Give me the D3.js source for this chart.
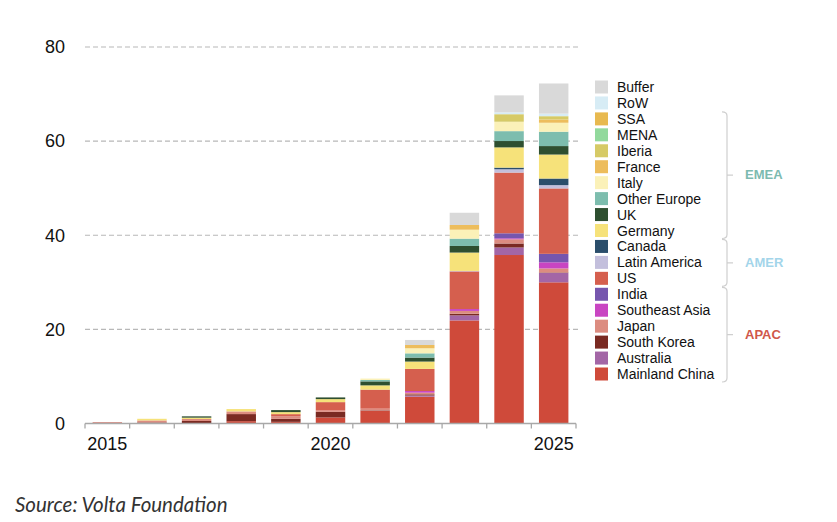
<!DOCTYPE html>
<html lang="en">
    <head>
        <meta charset="utf-8">
        <title>Battery demand by region</title>
        <script type="text/javascript" src="https://cdn.jsdelivr.net/npm/d3@7/dist/d3.min.js"></script>
        <style>
            body { margin: 0; background: #fff; }
            svg { display: block; }
        </style>
    </head>
    <body>
        <div id="chart"></div>
        <script type="text/javascript">
            // years on the x axis
            var years = [2015, 2016, 2017, 2018, 2019, 2020, 2021, 2022, 2023, 2024, 2025];
            var yearLabels = [2015, 2020, 2025];
            var yTicks = [0, 20, 40, 60, 80];

            // series values, one per year
            var mainlandChina = [0, 0.08, 0.1, 0.5, 0.35, 1.28, 2.7, 5.7, 21.9, 35.8, 30.0];
            var australia     = [0, 0, 0, 0, 0, 0, 0, 0.25, 1.07, 1.6, 2.0];
            var southKorea    = [0.1, 0.14, 0.43, 1.5, 0.64, 1.2, 0.1, 0.25, 0.35, 0.85, 0.1];
            var japan         = [0.2, 0.43, 0.43, 0.57, 0.57, 0.36, 0.35, 0.35, 0.6, 0.9, 0.85];
            var southeastAsia = [0, 0, 0, 0, 0, 0, 0, 0.35, 0.4, 0.2, 1.3];
            var india         = [0, 0, 0, 0, 0, 0, 0, 0, 0, 1.07, 1.8];
            var us            = [0, 0, 0, 0, 0.43, 1.7, 4.05, 4.7, 8.0, 12.9, 13.9];
            var latinAmerica  = [0, 0, 0, 0, 0, 0, 0, 0, 0.1, 0.7, 0.7];
            var canada        = [0, 0, 0, 0, 0, 0, 0, 0, 0, 0.35, 1.4];
            var germany       = [0, 0.35, 0.28, 0.5, 0.43, 0.64, 0.9, 1.56, 3.9, 4.3, 5.1];
            var uk            = [0, 0, 0.28, 0, 0.43, 0.36, 0.85, 0.85, 1.4, 1.35, 1.8];
            var otherEurope   = [0, 0, 0, 0, 0, 0, 0.3, 0.9, 1.56, 2.1, 3.05];
            var italy         = [0, 0, 0, 0, 0, 0, 0.3, 1.07, 1.9, 2.0, 1.9];
            var france        = [0, 0, 0, 0, 0, 0, 0, 0.7, 1.0, 0, 0.7];
            var iberia        = [0, 0, 0, 0, 0, 0, 0, 0, 0, 1.6, 0.7];
            var mena          = [0, 0, 0, 0, 0, 0, 0, 0, 0, 0, 0];
            var ssa           = [0, 0, 0, 0, 0, 0, 0, 0, 0, 0, 0];
            var row           = [0, 0, 0, 0, 0, 0, 0, 0, 0, 0.4, 0.55];
            var buffer        = [0, 0, 0, 0, 0, 0, 0, 1.07, 2.6, 3.6, 6.4];

            // stacking order, bottom to top
            var seriesNames = ["Mainland China", "Australia", "South Korea", "Japan", "Southeast Asia", "India",
                "US", "Latin America", "Canada", "Germany", "UK", "Other Europe", "Italy", "France",
                "Iberia", "MENA", "SSA", "RoW", "Buffer"];
            var seriesValues = [mainlandChina, australia, southKorea, japan, southeastAsia, india,
                us, latinAmerica, canada, germany, uk, otherEurope, italy, france,
                iberia, mena, ssa, row, buffer];
            var seriesColors = ["#cf4a3a", "#a366a6", "#7a2a22", "#dc8c80", "#c945c2", "#7656ae",
                "#d55f4e", "#c3bfdc", "#2b4e6b", "#f6e27a", "#2e4f30", "#7dbdae", "#fbf1b8", "#edbd5c",
                "#d6ca66", "#92d99c", "#e8b94f", "#d7ecf5", "#d9d9d9"];

            var regions = [
                { name: "EMEA", first: "SSA", last: "Germany", color: "#7cbab0" },
                { name: "AMER", first: "Canada", last: "US", color: "#a3d5ea" },
                { name: "APAC", first: "India", last: "Mainland China", color: "#d0574a" }
            ];

            var w = 837;
            var h = 522;
            var plotLeft = 85, plotRight = 576, plotTop = 47, plotBottom = 423.5;

            var table = years.map(function(yr, i) {
                var o = { year: yr };
                seriesNames.forEach(function(n, j) { o[n] = seriesValues[j][i]; });
                return o;
            });

            var stack = d3.stack().keys(seriesNames)(table);

            var x = d3.scaleBand().domain(years).range([plotLeft, plotRight])
                .paddingInner(0.34).paddingOuter(0.17);
            var y = d3.scaleLinear().domain([0, 80]).range([plotBottom, plotTop]);
            var color = d3.scaleOrdinal().domain(seriesNames).range(seriesColors);

            var svg = d3.select("#chart").append("svg").attr("width", w).attr("height", h);

            // dashed gridlines
            svg.append("g").selectAll("line")
                .data(yTicks.filter(function(d) { return d > 0; }))
                .enter()
                .append("line")
                .attr("x1", plotLeft).attr("x2", plotRight + 2)
                .attr("y1", function(d) { return y(d); })
                .attr("y2", function(d) { return y(d); })
                .attr("stroke", "#b8b8b8")
                .attr("stroke-width", 1.2)
                .attr("stroke-dasharray", "5,3");

            // y labels
            svg.append("g").selectAll("text")
                .data(yTicks)
                .enter()
                .append("text")
                .text(function(d) { return d; })
                .attr("x", 65)
                .attr("y", function(d) { return y(d); })
                .attr("dy", "0.35em")
                .attr("text-anchor", "end")
                .attr("font-family", "Liberation Sans, Arial, sans-serif")
                .attr("font-size", "18px")
                .attr("fill", "#111");

            // stacked bars
            svg.append("g").selectAll("g")
                .data(stack)
                .enter()
                .append("g")
                .attr("fill", function(d) { return color(d.key); })
                .selectAll("rect")
                .data(function(d) { return d; })
                .enter()
                .append("rect")
                .attr("x", function(d) { return x(d.data.year); })
                .attr("y", function(d) { return y(d[1]); })
                .attr("width", x.bandwidth())
                .attr("height", function(d) { return Math.max(0, y(d[0]) - y(d[1])); });

            // x axis: line plus ticks at band edges
            var step = x.step();
            var edges = years.map(function(d) { return x(d) + x.bandwidth() / 2 - step / 2; });
            edges.push(x(years[years.length - 1]) + x.bandwidth() / 2 + step / 2);
            var axis = svg.append("g").attr("stroke", "#a8a8a8").attr("stroke-width", 1.3);
            axis.append("line")
                .attr("x1", edges[0]).attr("x2", edges[edges.length - 1])
                .attr("y1", plotBottom).attr("y2", plotBottom);
            axis.selectAll(".tick")
                .data(edges)
                .enter()
                .append("line")
                .attr("class", "tick")
                .attr("x1", function(d) { return d; })
                .attr("x2", function(d) { return d; })
                .attr("y1", plotBottom).attr("y2", plotBottom + 5);

            svg.append("g").selectAll("text")
                .data(yearLabels)
                .enter()
                .append("text")
                .text(function(d) { return d; })
                .attr("x", function(d) { return x(d) + x.bandwidth() / 2; })
                .attr("y", 450)
                .attr("text-anchor", "middle")
                .attr("font-family", "Liberation Sans, Arial, sans-serif")
                .attr("font-size", "18px")
                .attr("fill", "#111");

            // legend, top item is Buffer
            var legendNames = seriesNames.slice().reverse();
            var ly = d3.scalePoint().domain(legendNames).range([87, 374]);
            var legend = svg.append("g").selectAll("g")
                .data(legendNames)
                .enter()
                .append("g")
                .attr("transform", function(d) { return "translate(0," + ly(d) + ")"; });
            legend.append("rect")
                .attr("x", 595).attr("y", -6.5)
                .attr("width", 13).attr("height", 13)
                .attr("fill", function(d) { return color(d); });
            legend.append("text")
                .text(function(d) { return d; })
                .attr("x", 617)
                .attr("dy", "0.36em")
                .attr("font-family", "Liberation Sans, Arial, sans-serif")
                .attr("font-size", "14px")
                .attr("fill", "#111");

            // region brackets
            var bx = 727;
            var br = svg.append("g").selectAll("g")
                .data(regions)
                .enter()
                .append("g");
            br.append("path")
                .attr("d", function(d) {
                    var t = ly(d.first) - 7, b = ly(d.last) + 8;
                    return "M" + (bx - 5) + "," + t + " Q" + bx + "," + t + " " + bx + "," + (t + 4) +
                        " L" + bx + "," + (b - 4) + " Q" + bx + "," + b + " " + (bx - 5) + "," + b +
                        " M" + bx + "," + ((t + b) / 2) + " L" + (bx + 6) + "," + ((t + b) / 2);
                })
                .attr("fill", "none")
                .attr("stroke", "#cfcfcf")
                .attr("stroke-width", 1.2);
            br.append("text")
                .text(function(d) { return d.name; })
                .attr("x", 745)
                .attr("y", function(d) { return (ly(d.first) + ly(d.last)) / 2; })
                .attr("dy", "0.36em")
                .attr("font-family", "Liberation Sans, Arial, sans-serif")
                .attr("font-size", "13px")
                .attr("font-weight", "bold")
                .attr("fill", function(d) { return d.color; });

            svg.append("text")
                .text("Source: Volta Foundation")
                .attr("x", 15)
                .attr("y", 512)
                .attr("font-family", "Lato, Carlito, sans-serif")
                .attr("font-style", "italic")
                .attr("font-size", "20.5px")
                .attr("fill", "#333");
        </script>
    </body>
</html>
